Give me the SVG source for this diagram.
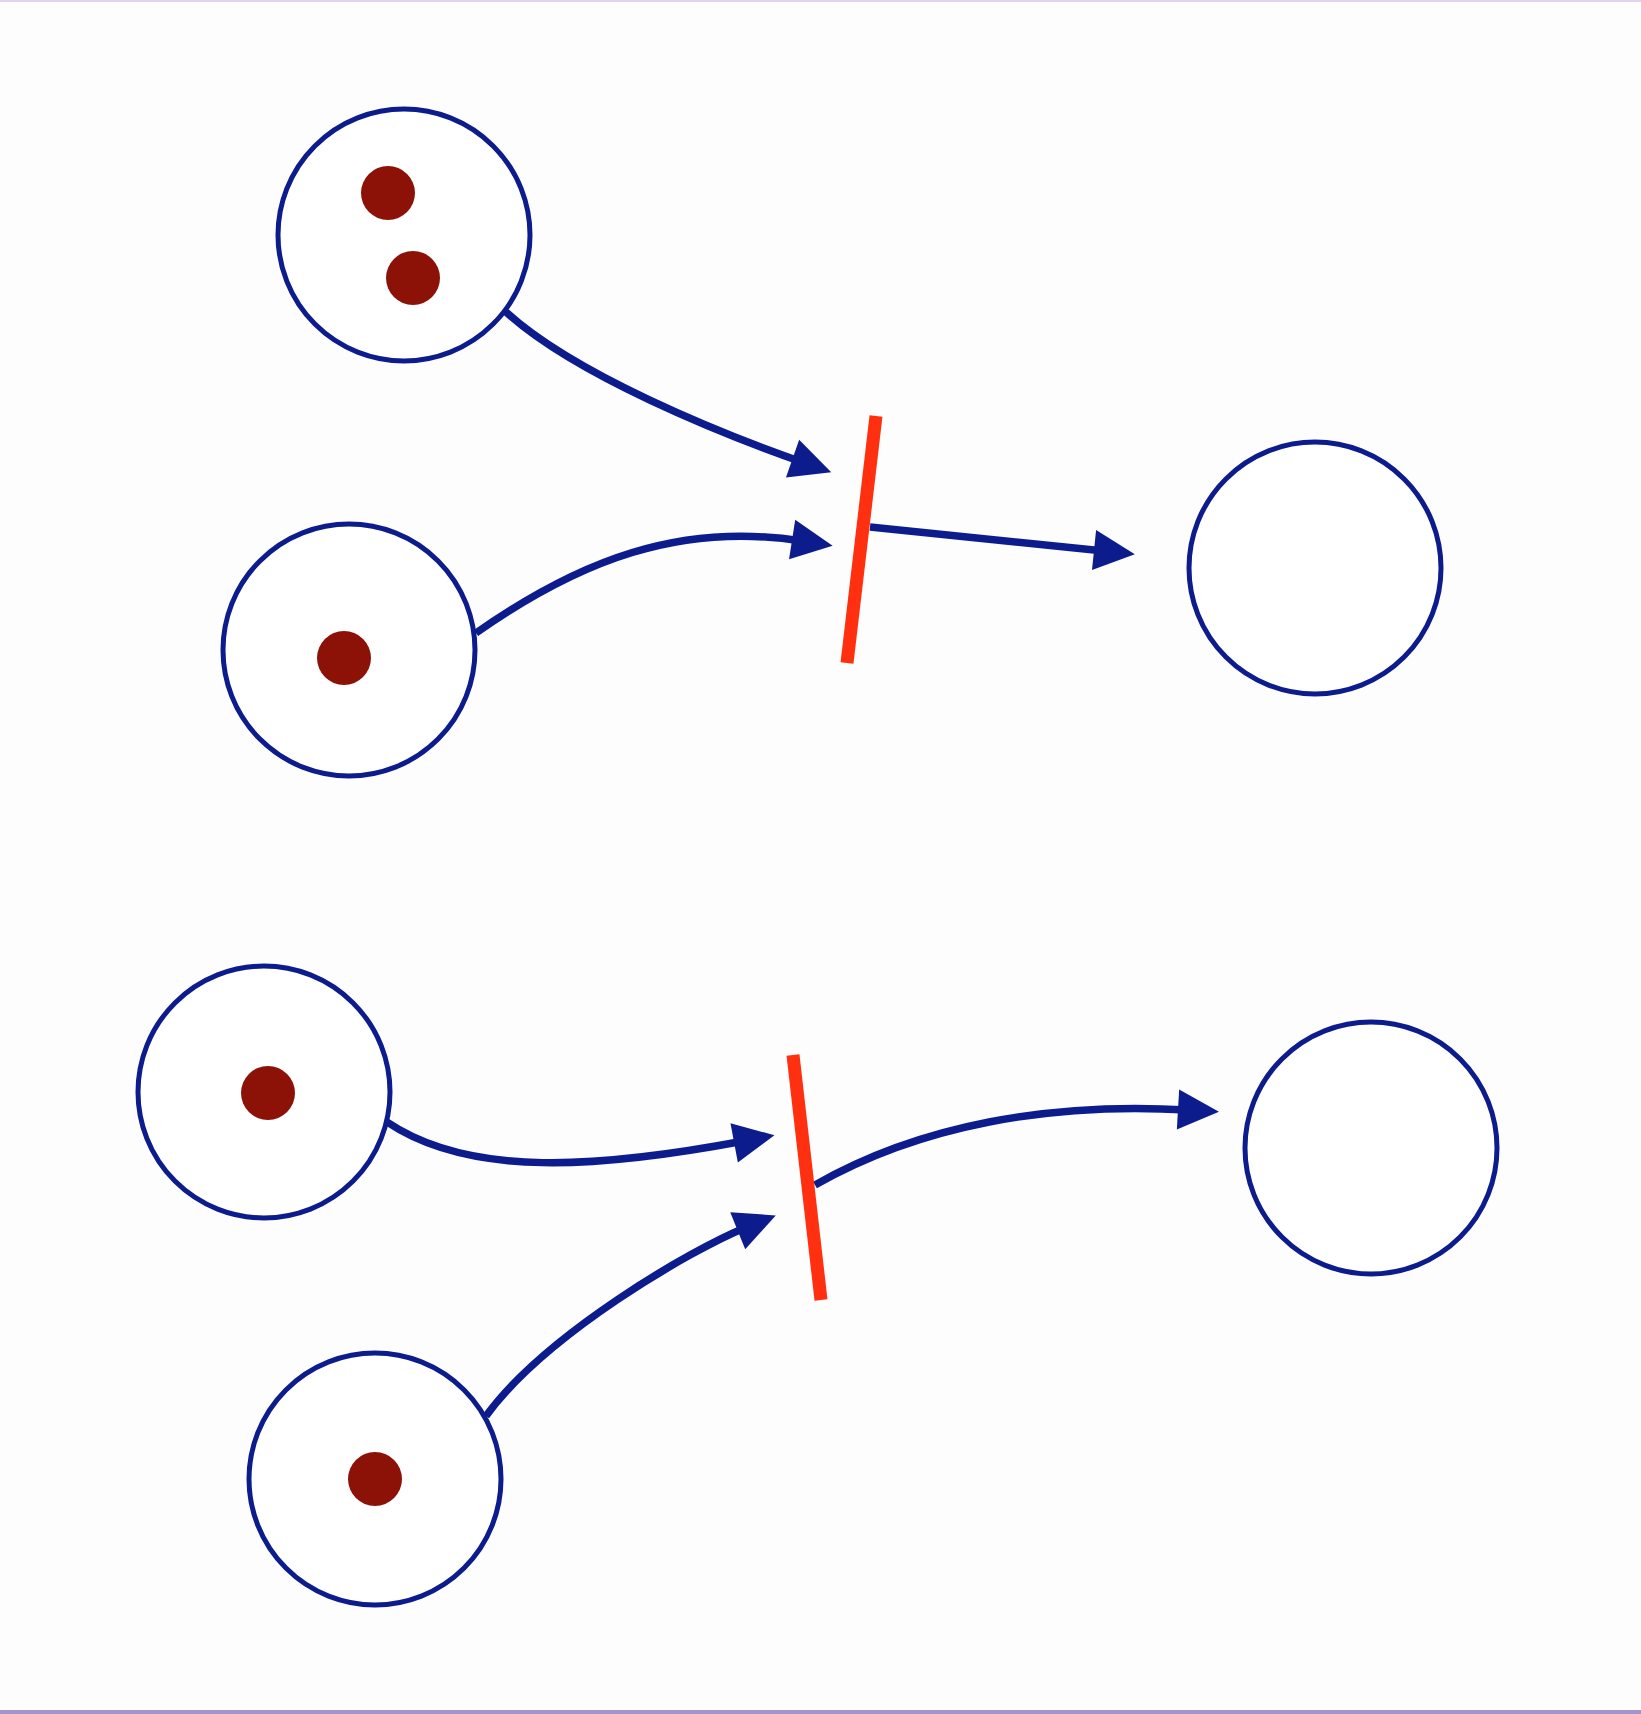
<svg xmlns="http://www.w3.org/2000/svg" width="1641" height="1714" viewBox="0 0 1641 1714">
  <style>
    .place { fill: #ffffff; stroke: #0c1c8c; stroke-width: 5; }
    .token { fill: #8c1208; }
    .trans { stroke: #ff3010; stroke-width: 13; stroke-linecap: butt; }
    .arc { fill: none; stroke: #0c1c8c; stroke-width: 7.5; marker-end: url(#arrow); }
  </style>
  <defs>
    <marker id="arrow" markerUnits="userSpaceOnUse" markerWidth="42" markerHeight="40" refX="10" refY="20" orient="auto" overflow="visible">
      <path d="M0,0 L41,20 L0,40 z" fill="#0c1c8c"/>
    </marker>
  </defs>

  <rect x="0" y="0" width="1641" height="1714" fill="#fdfdfd"/>
  <rect x="0" y="0" width="1641" height="2" fill="#e2d4ee"/>
  <rect x="0" y="1710" width="1641" height="4" fill="#a594cc"/>

  <!-- connectors: arcs between places and transitions -->
  <g id="connectors">
    <path class="arc" d="M506,312 C575,375 722,434 802,462"/>
    <path class="arc" d="M476,633 C580,560 680,522 802,541"/>
    <path class="arc" d="M870,527 L1104,551"/>
    <path class="arc" d="M387,1122 C470,1178 600,1168 744,1141"/>
    <path class="arc" d="M486,1416 C545,1335 690,1250 747,1227"/>
    <path class="arc" d="M815,1185 C920,1125 1050,1102 1188,1110"/>
  </g>

  <!-- upper net -->
  <g id="p1">
    <circle class="place" cx="404" cy="235" r="126"/>
    <circle class="token" cx="388" cy="193" r="27"/>
    <circle class="token" cx="413" cy="278" r="27"/>
  </g>
  <g id="p2">
    <circle class="place" cx="349" cy="650" r="126"/>
    <circle class="token" cx="344" cy="658" r="27"/>
  </g>
  <g id="t1">
    <line class="trans" x1="876" y1="416" x2="847" y2="663"/>
  </g>
  <g id="p3">
    <circle class="place" cx="1315" cy="568" r="126"/>
  </g>

  <!-- lower net -->
  <g id="p4">
    <circle class="place" cx="264" cy="1092" r="126"/>
    <circle class="token" cx="268" cy="1093" r="27"/>
  </g>
  <g id="p5">
    <circle class="place" cx="375" cy="1479" r="126"/>
    <circle class="token" cx="375" cy="1479" r="27"/>
  </g>
  <g id="t2">
    <line class="trans" x1="793" y1="1055" x2="821" y2="1300"/>
  </g>
  <g id="p6">
    <circle class="place" cx="1371" cy="1148" r="126"/>
  </g>
</svg>
